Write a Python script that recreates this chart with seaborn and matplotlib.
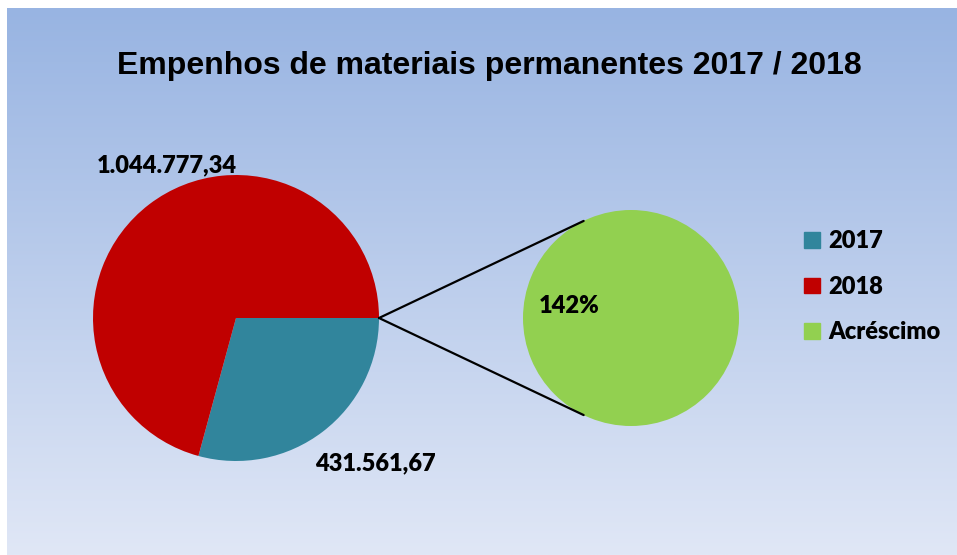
import numpy as np
import matplotlib
matplotlib.use("Agg")
import matplotlib.pyplot as plt
from matplotlib.patches import Patch
import seaborn as sns

# dados
categorias = ["2017", "2018"]
valores = [431561.67, 1044777.34]
rotulos = ["431.561,67", "1.044.777,34"]
legenda = ["2017", "2018", "Acréscimo"]
acrescimo = ["142%"]

cores = sns.color_palette(["#31859c", "#c00000", "#92d050"])

sns.set_style("white")
plt.rcParams["font.family"] = ["Lato", "DejaVu Sans"]
plt.rcParams["text.color"] = "black"

W, H = 957, 555
fig = plt.figure(figsize=(W / 100, H / 100), dpi=100)

# fundo em degrade
bg = fig.add_axes([7 / W, 0, 1 - 7 / W, (H - 8) / H])
top = np.array(matplotlib.colors.to_rgb("#98b4e2"))
bot = np.array(matplotlib.colors.to_rgb("#e0e7f6"))
t = np.linspace(0, 1, 256)[:, None, None]
grad = top * (1 - t) + bot * t
bg.imshow(np.repeat(grad, 2, axis=1), aspect="auto", extent=[0, 1, 0, 1])
bg.axis("off")

ax = fig.add_axes([0, 0, 1, 1])
ax.patch.set_alpha(0)

c1 = (236, H - 318)
r1 = 143
c2 = (631, H - 318)
r2 = 108

ax.pie(valores, colors=cores[:2], startangle=0, counterclock=False,
       center=c1, radius=r1, frame=True, wedgeprops={"linewidth": 0})
ax.pie([1], colors=[cores[2]], center=c2, radius=r2, frame=True,
       wedgeprops={"linewidth": 0})
ax.set_xlim(0, W)
ax.set_ylim(0, H)
ax.set_aspect("equal")
ax.axis("off")

# linhas de ligacao
ang = np.deg2rad(116)
p0 = (c1[0] + r1, c1[1])
for s in (1, -1):
    px = c2[0] + r2 * np.cos(ang)
    py = c2[1] + s * r2 * np.sin(ang)
    ax.plot([p0[0], px], [p0[1], py], color="black", lw=1.6)

fw = "heavy"
ax.text(375, H - 463, rotulos[0], ha="center", va="center", fontsize=17, fontweight=fw)
ax.text(167, H - 165, rotulos[1], ha="center", va="center", fontsize=17, fontweight=fw)
ax.text(569, H - 306, acrescimo[0], ha="center", va="center", fontsize=17, fontweight=fw)

ax.text(489, H - 66, "Empenhos de materiais permanentes 2017 / 2018", ha="center", va="center",
        fontsize=23, fontweight="bold", family=["Liberation Sans", "DejaVu Sans"])

handles = [Patch(color=c) for c in cores]
fig.legend(handles, legenda, loc="upper left", bbox_to_anchor=(783 / W, 1 - 209 / H),
           frameon=False, handlelength=0.65, handleheight=0.65, handletextpad=0.35,
           labelspacing=1.0, prop={"weight": fw, "size": 17})

fig.savefig("out.png", dpi=100)
